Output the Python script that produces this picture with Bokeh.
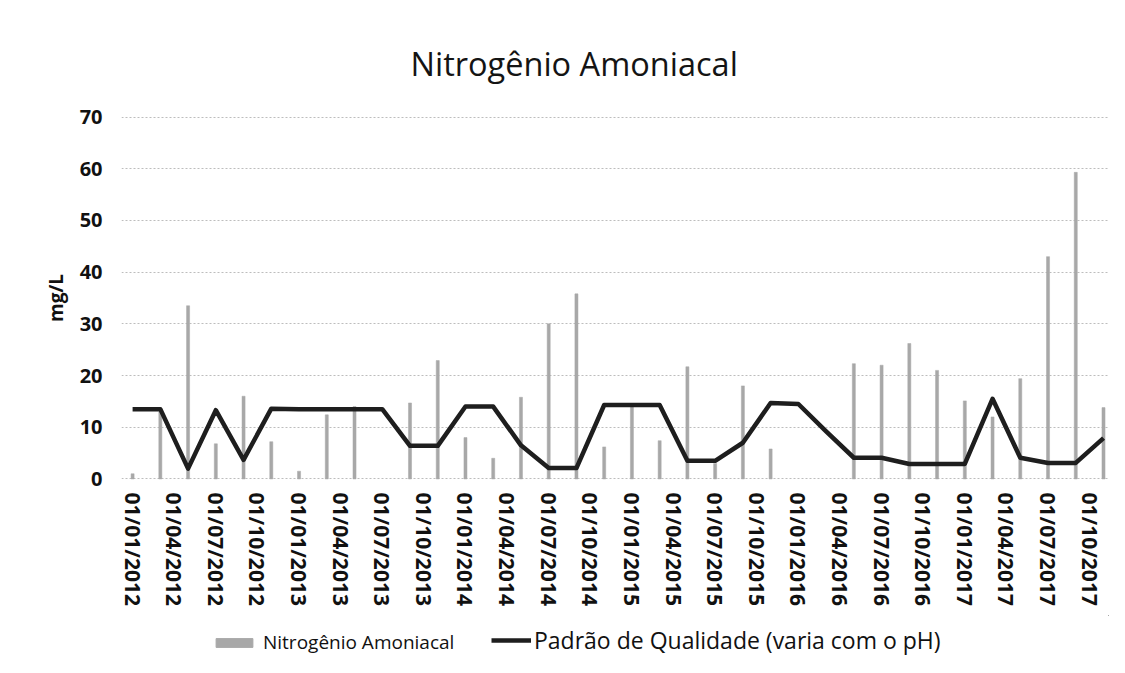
from bokeh.plotting import figure
from bokeh.layouts import column
from bokeh.models import FixedTicker, Range1d, Legend, LegendItem, ColumnDataSource
from bokeh.embed import file_html
from bokeh.resources import INLINE

# ---- data -------------------------------------------------------------
tick_labels = [
    "01/01/2012", "01/04/2012", "01/07/2012", "01/10/2012",
    "01/01/2013", "01/04/2013", "01/07/2013", "01/10/2013",
    "01/01/2014", "01/04/2014", "01/07/2014", "01/10/2014",
    "01/01/2015", "01/04/2015", "01/07/2015", "01/10/2015",
    "01/01/2016", "01/04/2016", "01/07/2016", "01/10/2016",
    "01/01/2017", "01/04/2017", "01/07/2017", "01/10/2017",
]

sample_dates = [
    "01/01/2012", "01/03/2012", "01/05/2012", "01/07/2012", "01/09/2012", "01/11/2012",
    "01/01/2013", "01/03/2013", "01/05/2013", "01/07/2013", "01/09/2013", "01/11/2013",
    "01/01/2014", "01/03/2014", "01/05/2014", "01/07/2014", "01/09/2014", "01/11/2014",
    "01/01/2015", "01/03/2015", "01/05/2015", "01/07/2015", "01/09/2015", "01/11/2015",
    "01/01/2016", "01/03/2016", "01/05/2016", "01/07/2016", "01/09/2016", "01/11/2016",
    "01/01/2017", "01/03/2017", "01/05/2017", "01/07/2017", "01/09/2017", "01/11/2017",
]

nitrogenio = [
    1.0, 13.0, 33.5, 6.8, 16.0, 7.2,
    1.5, 12.4, 14.0, None, 14.7, 22.9,
    8.0, 4.0, 15.8, 30.0, 35.8, 6.2,
    14.0, 7.4, 21.7, 3.0, 18.0, 5.8,
    None, None, 22.3, 22.0, 26.2, 21.0,
    15.1, 12.0, 19.4, 43.0, 59.3, 13.8,
]

padrao = [
    13.5, 13.5, 2.0, 13.3, 3.7, 13.6,
    13.5, 13.5, 13.5, 13.5, 6.4, 6.4,
    14.0, 14.0, 6.5, 2.1, 2.1, 14.3,
    14.3, 14.3, 3.5, 3.5, 7.0, 14.7,
    14.5, 9.2, 4.1, 4.1, 2.9, 2.9,
    2.9, 15.5, 4.1, 3.1, 3.1, 7.9,
]

y_ticks = [0, 10, 20, 30, 40, 50, 60, 70]

series_names = ["Nitrogênio Amoniacal", "Padrão de Qualidade (varia com o pH)"]


def month_index(d):
    dd, mm, yy = d.split("/")
    return (int(yy) - 2012) * 12 + int(mm) - 1


x_all = [month_index(d) for d in sample_dates]
bar_x = [x for x, v in zip(x_all, nitrogenio) if v is not None]
bar_v = [v for v in nitrogenio if v is not None]
tick_pos = [month_index(t) for t in tick_labels]

bars_src = ColumnDataSource(dict(x=bar_x, top=bar_v))
line_src = ColumnDataSource(dict(x=x_all, y=padrao))

FONT = "Open Sans"
BAR_COLOR = "#a8a8a8"
LINE_COLOR = "#1e1e1e"

# ---- main figure --------------------------------------------------------
p = figure(
    width=1120, height=615,
    output_backend="svg", toolbar_location=None,
    x_range=Range1d(-0.8, 70.36), y_range=Range1d(-0.3, 70.3),
    min_border_left=121, min_border_right=12,
    min_border_top=115, min_border_bottom=135,
)
p.outline_line_color = None
p.background_fill_color = "white"
p.border_fill_color = "white"

p.title.text = "Nitrogênio Amoniacal"
p.title.text_font = FONT
p.title.text_font_size = "32.5px"
p.title.text_font_style = "normal"
p.title.text_color = "#141414"
p.title.align = "left"
p.title.offset = 289
p.title.standoff = 59

p.vbar(x="x", top="top", bottom=0, width=0.22, source=bars_src,
       fill_color=BAR_COLOR, line_color=BAR_COLOR, line_width=0.5)
p.line(x="x", y="y", source=line_src, line_color=LINE_COLOR,
       line_width=4.5, line_join="round", line_cap="butt")

# axes
p.xaxis.ticker = FixedTicker(ticks=tick_pos)
p.xaxis.major_label_overrides = {t: lab for t, lab in zip(tick_pos, tick_labels)}
p.xaxis.major_label_orientation = "vertical"
p.xaxis.major_label_text_font = FONT
p.xaxis.major_label_text_font_size = "21px"
p.xaxis.major_label_text_font_style = "bold"
p.xaxis.major_label_text_color = "#111111"
p.xaxis.major_label_standoff = 12
p.xaxis.axis_line_color = None
p.xaxis.major_tick_line_color = None
p.xaxis.minor_tick_line_color = None
p.xaxis.major_tick_out = 0

p.yaxis.ticker = FixedTicker(ticks=y_ticks)
p.yaxis.major_label_text_font = FONT
p.yaxis.major_label_text_font_size = "20px"
p.yaxis.major_label_text_font_style = "bold"
p.yaxis.major_label_text_color = "#111111"
p.yaxis.major_label_standoff = 19
p.yaxis.axis_line_color = None
p.yaxis.major_tick_line_color = None
p.yaxis.minor_tick_line_color = None
p.yaxis.major_tick_out = 0
p.yaxis.axis_label = "mg/L"
p.yaxis.axis_label_text_font = FONT
p.yaxis.axis_label_text_font_size = "19px"
p.yaxis.axis_label_text_font_style = "bold"
p.yaxis.axis_label_text_color = "#111111"
p.yaxis.axis_label_standoff = 8

p.xgrid.grid_line_color = None
p.ygrid.grid_line_color = "#bdbdbd"
p.ygrid.grid_line_dash = "2 2"
p.ygrid.grid_line_width = 1

# ---- legend strip ---------------------------------------------------------
# same sources as the chart; the view range is placed off the data so only the
# legend swatches are visible in this strip
lg = figure(
    width=1120, height=50,
    output_backend="svg", toolbar_location=None,
    x_range=Range1d(-20, -10), y_range=Range1d(-20, -10),
    x_axis_location=None, y_axis_location=None,
    min_border_left=0, min_border_right=0, min_border_top=0, min_border_bottom=0,
)
lg.outline_line_color = None
lg.grid.grid_line_color = None
lg.background_fill_color = "white"
lg.border_fill_color = "white"

proxy_bar = lg.vbar(x="x", top="top", bottom=0, width=0.22, source=bars_src,
                    fill_color=BAR_COLOR, line_color=BAR_COLOR)
proxy_line = lg.line(x="x", y="y", source=line_src, line_color=LINE_COLOR,
                     line_width=4.5)

legend_bar = Legend(
    items=[LegendItem(label=series_names[0], renderers=[proxy_bar])],
    orientation="horizontal",
    location=(90, 10),
    glyph_width=46, glyph_height=11,
    label_standoff=6, padding=4, margin=0,
    label_text_font=FONT, label_text_font_size="19px", label_text_color="#111111",
    background_fill_alpha=0, border_line_color=None,
)
legend_line = Legend(
    items=[LegendItem(label=series_names[1], renderers=[proxy_line])],
    orientation="horizontal",
    location=(370, 9),
    glyph_width=40, glyph_height=12,
    label_standoff=3, padding=4, margin=0,
    label_text_font=FONT, label_text_font_size="23px", label_text_color="#111111",
    background_fill_alpha=0, border_line_color=None,
)
lg.add_layout(legend_bar, "center")
lg.add_layout(legend_line, "center")

layout = column(p, lg, spacing=0)

open("out.html", "w").write(file_html(layout, INLINE))
